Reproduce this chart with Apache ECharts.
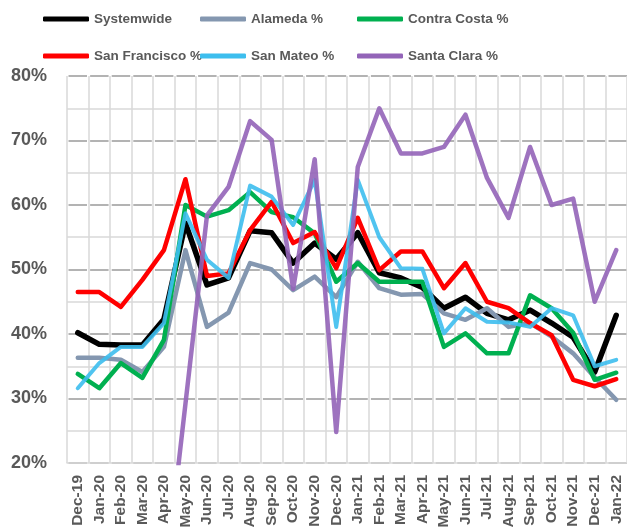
<!DOCTYPE html>
<html>
<head>
<meta charset="utf-8">
<script src="https://cdn.jsdelivr.net/npm/echarts@6/dist/echarts.min.js"></script>
<style>
  html, body { margin: 0; padding: 0; background: #fff; }
  #chart { width: 627px; height: 532px; }
</style>
</head>
<body>
<div id="chart"></div>
<script>
const months = ['Dec-19', 'Jan-20', 'Feb-20', 'Mar-20', 'Apr-20', 'May-20', 'Jun-20', 'Jul-20',
  'Aug-20', 'Sep-20', 'Oct-20', 'Nov-20', 'Dec-20', 'Jan-21', 'Feb-21', 'Mar-21', 'Apr-21',
  'May-21', 'Jun-21', 'Jul-21', 'Aug-21', 'Sep-21', 'Oct-21', 'Nov-21', 'Dec-21', 'Jan-22']

const systemwide = [40.2, 38.4, 38.3, 38.3, 42.3, 57.2, 47.6, 48.7, 56.0, 55.7, 51.0, 54.1, 51.6,
  55.7, 49.5, 48.7, 47.2, 44.0, 45.7, 43.2, 42.2, 43.7, 41.7, 39.5, 34.1, 42.9]
const alameda = [36.3, 36.3, 36.0, 34.1, 38.0, 53.0, 41.1, 43.3, 51.0, 50.0, 46.8, 48.9, 45.7,
  51.2, 47.1, 46.1, 46.2, 43.2, 42.2, 44.0, 41.1, 41.7, 39.6, 37.0, 33.3, 29.8]
const contraCosta = [33.8, 31.6, 35.5, 33.2, 39.1, 60.0, 58.2, 59.2, 62.0, 58.9, 58.1, 55.6, 48.1,
  51.0, 48.1, 48.1, 48.1, 38.0, 40.1, 37.0, 37.0, 46.0, 44.0, 40.2, 32.9, 34.0]
const sanFrancisco = [46.5, 46.5, 44.2, 48.4, 53.0, 64.0, 49.0, 49.4, 56.1, 60.5, 54.1, 55.8, 50.2,
  58.0, 49.9, 52.8, 52.8, 47.1, 51.0, 45.0, 44.0, 41.7, 39.8, 32.9, 31.9, 33.0]
const sanMateo = [31.6, 35.5, 38.0, 38.0, 41.7, 58.7, 51.5, 48.7, 63.0, 61.3, 56.9, 63.9, 41.1,
  63.9, 55.0, 50.2, 50.1, 40.1, 44.0, 41.9, 41.8, 41.1, 44.0, 42.9, 35.0, 36.0]
const santaClara = [null, null, null, null, 0, 29.2, 58.4, 62.8, 73.0, 70.1, 47.0, 67.1, 24.8,
  65.9, 75.0, 68.0, 68.0, 69.0, 74.0, 64.2, 58.0, 69.0, 60.0, 61.0, 45.0, 53.0]

const yTicks = [20, 30, 40, 50, 60, 70, 80]

const seriesDefs = [
  { name: 'Systemwide', data: systemwide, color: '#000000', width: 5.5 },
  { name: 'Alameda %', data: alameda, color: '#8497B0', width: 4.5 },
  { name: 'Contra Costa %', data: contraCosta, color: '#00B050', width: 4.5 },
  { name: 'San Francisco %', data: sanFrancisco, color: '#FF0000', width: 4.5 },
  { name: 'San Mateo %', data: sanMateo, color: '#3DBEEE', width: 4, opacity: 0.9 },
  { name: 'Santa Clara %', data: santaClara, color: '#9364B8', width: 4.5, opacity: 0.9 }
]

// legend positions (two rows, three columns)
const legendPos = [[38, 7], [195, 7], [352, 7], [38, 44], [195, 44], [352, 44]]

const chart = echarts.init(document.getElementById('chart'), null, { renderer: 'canvas' })

const option = {
  animation: false,
  backgroundColor: '#fff',
  textStyle: { fontFamily: 'Liberation Sans' },
  legend: seriesDefs.map((s, i) => ({
    data: [s.name],
    left: legendPos[i][0],
    top: legendPos[i][1],
    icon: 'roundRect',
    itemWidth: 46,
    itemHeight: 5,
    itemGap: 0,
    textStyle: { fontSize: 13.5, fontWeight: 'bold', color: '#595959' }
  })),
  grid: {
    left: 67,
    top: 76,
    width: 561,
    height: 387,
    containLabel: false
  },
  xAxis: {
    type: 'category',
    data: months,
    boundaryGap: true,
    axisLine: { show: true, lineStyle: { color: '#D9D9D9', width: 1.5 } },
    axisTick: { show: false },
    splitLine: { show: true, lineStyle: { color: '#D9D9D9', width: 1.5 } },
    axisLabel: {
      rotate: 90,
      interval: 0,
      margin: 12,
      fontSize: 15.5,
      fontWeight: 'bold',
      color: '#595959'
    }
  },
  yAxis: {
    type: 'value',
    min: yTicks[0],
    max: yTicks[yTicks.length - 1],
    interval: 10,
    axisLine: { show: false },
    axisTick: { show: false },
    axisLabel: {
      formatter: '{value}%',
      margin: 20,
      fontSize: 18,
      fontWeight: 'bold',
      color: '#595959'
    },
    splitLine: {
      show: true,
      lineStyle: { color: '#9A9A9A', width: 1.5, type: [18.5, 3.1], dashOffset: -1.5 }
    },
    minorTick: { show: false, splitNumber: 2 },
    minorSplitLine: { show: true, lineStyle: { color: '#D9D9D9', width: 1.5 } }
  },
  series: seriesDefs.map(s => ({
    name: s.name,
    type: 'line',
    data: s.data,
    symbol: 'none',
    connectNulls: false,
    clip: true,
    color: s.color,
    lineStyle: { color: s.color, width: s.width, opacity: s.opacity || 1, cap: 'round', join: 'round' },
    itemStyle: { color: s.color }
  }))
}

chart.setOption(option)
</script>
</body>
</html>
